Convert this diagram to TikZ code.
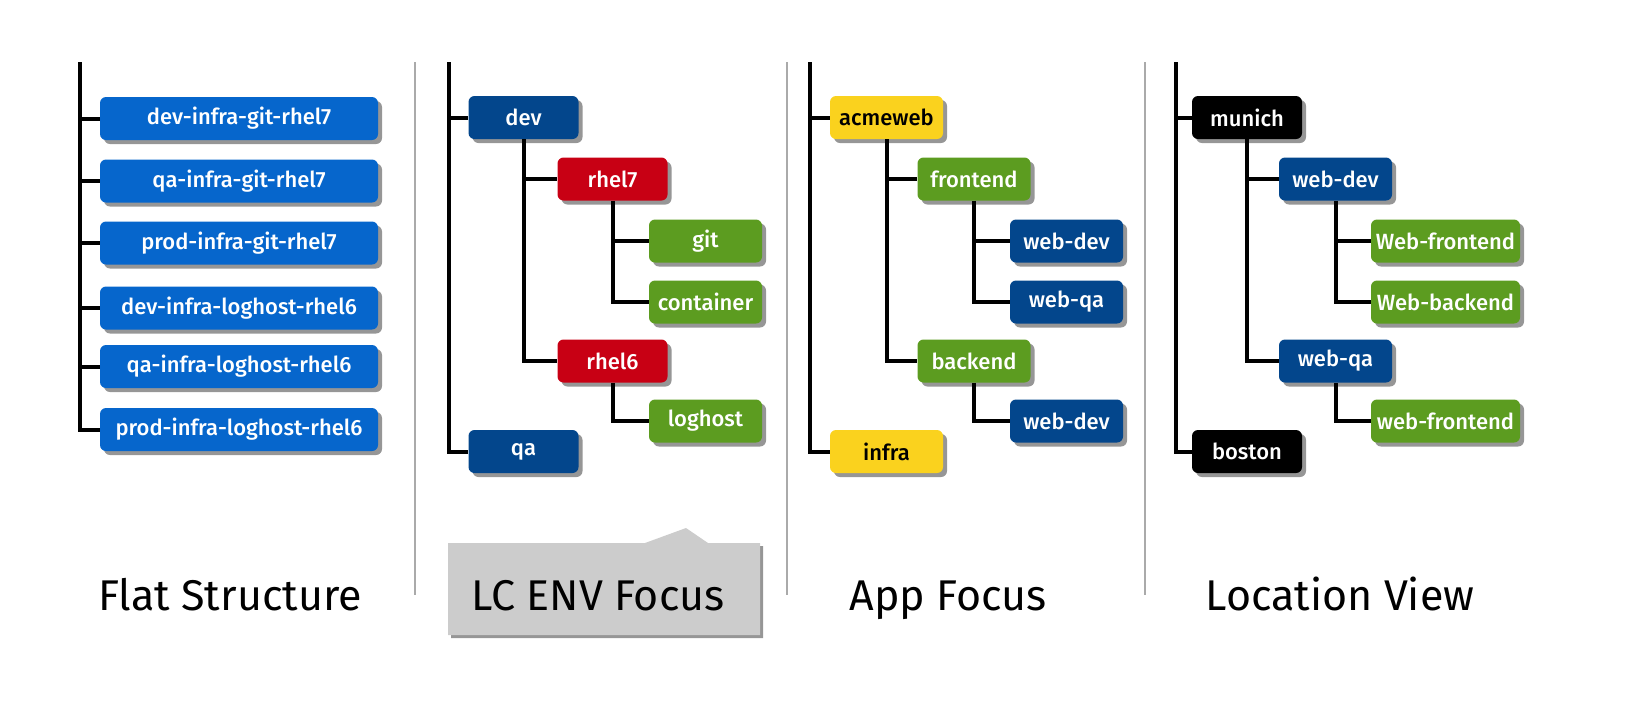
\documentclass[tikz,border=0pt]{standalone}
\usepackage{fontspec}
\setmainfont{Fira Sans}
\newfontfamily\boxfont{Fira Sans}[UprightFont=* Medium]
\usetikzlibrary{shadows}
\definecolor{cblue}{RGB}{6,102,204}
\definecolor{cnavy}{RGB}{3,70,140}
\definecolor{cred}{RGB}{200,0,20}
\definecolor{cgreen}{RGB}{92,156,32}
\definecolor{cyellow}{RGB}{250,210,30}
\definecolor{cshadow}{RGB}{150,150,150}
\definecolor{csep}{RGB}{170,170,170}
\definecolor{clabel}{RGB}{204,204,204}
\tikzset{
  bx/.style={draw=none, fill=#1, rounded corners=3pt, minimum height=21.5pt,
    inner sep=0pt, text=white, font=\boxfont\fontsize{11}{12}\selectfont,
    drop shadow={shadow xshift=2pt, shadow yshift=-2pt, fill=cshadow, opacity=1}},
  w1/.style={minimum width=139pt},
  w2/.style={minimum width=55pt},
  w3/.style={minimum width=56.5pt},
  w4/.style={minimum width=74.5pt},
  conn/.style={line width=2pt, black},
  sep/.style={line width=0.8pt, csep},
  title/.style={font=\fontsize{21.5}{24}\selectfont, text=black, anchor=base, inner sep=0pt}
}
\begin{document}
\begin{tikzpicture}[x=0.5pt, y=-0.5pt]
\useasboundingbox (0,0) rectangle (1630,709);
% separators
\draw[sep] (415,62) -- (415,595);
\draw[sep] (787,62) -- (787,595);
\draw[sep] (1145,62) -- (1145,595);

% Panel 1
\coordinate (t1) at (80,62);
\node[bx=cblue, w1] (f1) at (239,118.5) {dev-infra-git-rhel7};
\node[bx=cblue, w1] (f2) at (239,181) {qa-infra-git-rhel7};
\node[bx=cblue, w1] (f3) at (239,243) {prod-infra-git-rhel7};
\node[bx=cblue, w1] (f4) at (239,308) {dev-infra-loghost-rhel6};
\node[bx=cblue, w1] (f5) at (239,366.5) {qa-infra-loghost-rhel6};
\node[bx=cblue, w1] (f6) at (239,429.5) {prod-infra-loghost-rhel6};
\foreach \n in {f1,f2,f3,f4,f5,f6} \draw[conn] (t1) |- (\n.west);

% Panel 2
\coordinate (t2) at (449,62);
\node[bx=cnavy, w2] (dev) at (523.5,117.5) {dev};
\node[bx=cred, w2] (r7) at (612.5,179) {rhel7};
\node[bx=cgreen, w3] (git) at (705.5,241) {git};
\node[bx=cgreen, w3] (cont) at (705.5,302) {container};
\node[bx=cred, w2] (r6) at (612.5,361) {rhel6};
\node[bx=cgreen, w3] (log) at (705.5,421) {loghost};
\node[bx=cnavy, w2] (qa) at (523.5,451.5) {qa};
\draw[conn] (t2) |- (dev.west);
\draw[conn] (t2) |- (qa.west);
\draw[conn] (dev.south) |- (r7.west);
\draw[conn] (dev.south) |- (r6.west);
\draw[conn] (r7.south) |- (git.west);
\draw[conn] (r7.south) |- (cont.west);
\draw[conn] (r6.south) |- (log.west);

% Panel 3
\coordinate (t3) at (810,62);
\node[bx=cyellow, w3, text=black] (acme) at (886.5,117.5) {acmeweb};
\node[bx=cgreen, w3] (fe) at (974,179) {frontend};
\node[bx=cnavy, w3] (wd1) at (1066.5,241) {web-dev};
\node[bx=cnavy, w3] (wq1) at (1066.5,302) {web-qa};
\node[bx=cgreen, w3] (be) at (974,361) {backend};
\node[bx=cnavy, w3] (wd2) at (1066.5,421) {web-dev};
\node[bx=cyellow, w3, text=black] (infra) at (886.5,451.5) {infra};
\draw[conn] (t3) |- (acme.west);
\draw[conn] (t3) |- (infra.west);
\draw[conn] (acme.south) |- (fe.west);
\draw[conn] (acme.south) |- (be.west);
\draw[conn] (fe.south) |- (wd1.west);
\draw[conn] (fe.south) |- (wq1.west);
\draw[conn] (be.south) |- (wd2.west);

% Panel 4
\coordinate (t4) at (1176,62);
\node[bx=black, w2] (mun) at (1247,117.5) {munich};
\node[bx=cnavy, w3] (lwd) at (1335.5,179) {web-dev};
\node[bx=cgreen, w4] (wf1) at (1445.5,241) {Web-frontend};
\node[bx=cgreen, w4] (wb1) at (1445.5,302) {Web-backend};
\node[bx=cnavy, w3] (lwq) at (1335.5,361) {web-qa};
\node[bx=cgreen, w4] (wf2) at (1445.5,421) {web-frontend};
\node[bx=black, w2] (bos) at (1247,451.5) {boston};
\draw[conn] (t4) |- (mun.west);
\draw[conn] (t4) |- (bos.west);
\draw[conn] (mun.south) |- (lwd.west);
\draw[conn] (mun.south) |- (lwq.west);
\draw[conn] (lwd.south) |- (wf1.west);
\draw[conn] (lwd.south) |- (wb1.west);
\draw[conn] (lwq.south) |- (wf2.west);

% highlight box
\fill[clabel, drop shadow={shadow xshift=1.5pt, shadow yshift=-1.5pt, fill=cshadow, opacity=1}]
  (448,543) -- (645,543) -- (686,528) -- (708,543) -- (760,543) -- (760,635) -- (448,635) -- cycle;

% titles
\node[title] (l1) at (230,610) {Flat Structure};
\node[title] (l2) at (598,610) {LC ENV Focus};
\node[title] (l3) at (948,610) {App Focus};
\node[title] (l4) at (1340,610) {Location View};
\end{tikzpicture}
\end{document}
